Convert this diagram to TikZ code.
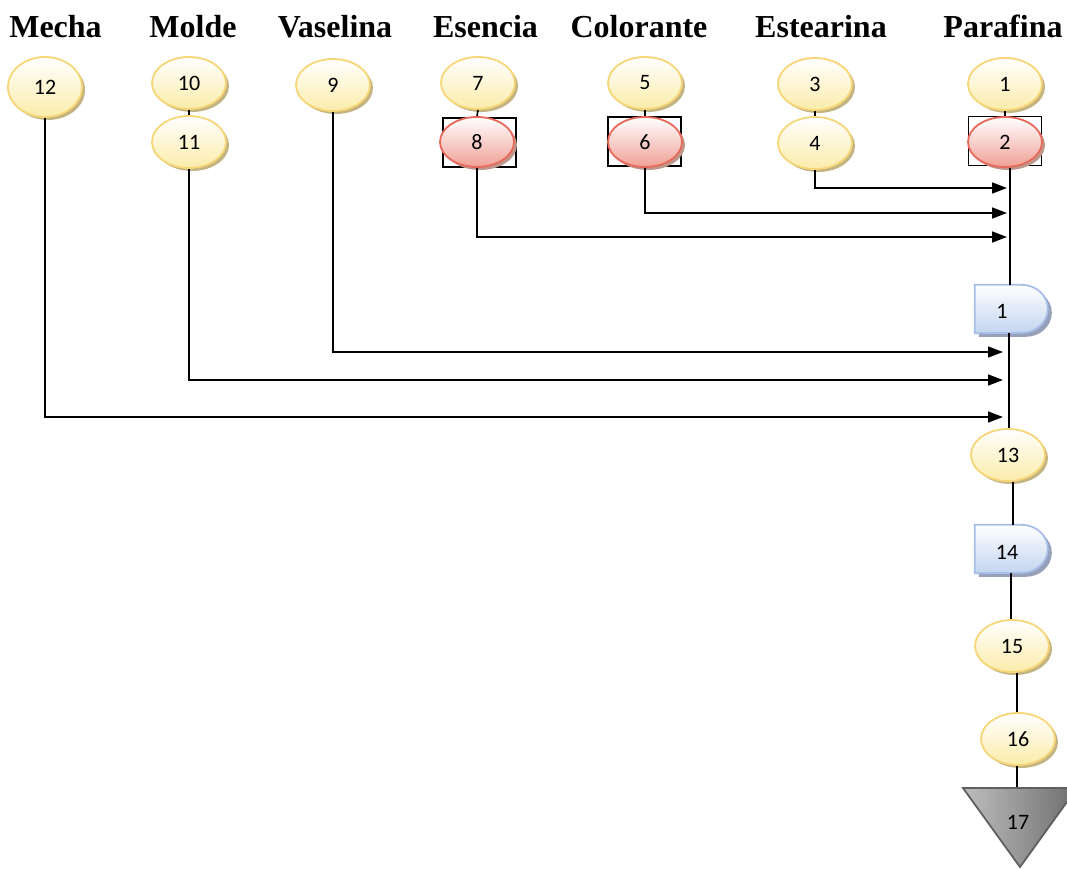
\documentclass[tikz,border=0pt]{standalone}
\usepackage{fontspec}
\setmainfont{Liberation Serif}
\newfontfamily\lblfont{Carlito}
\usetikzlibrary{shapes.geometric,arrows.meta,shadows,calc}
\definecolor{ylwb}{RGB}{246,214,118}
\definecolor{ylwf}{RGB}{251,236,170}
\definecolor{ylws}{RGB}{196,180,130}
\definecolor{redb}{RGB}{232,104,90}
\definecolor{redf}{RGB}{240,160,150}
\definecolor{reds}{RGB}{190,150,140}
\definecolor{blub}{RGB}{168,190,232}
\definecolor{bluf}{RGB}{196,212,240}
\definecolor{blus}{RGB}{150,160,185}
\definecolor{tril}{RGB}{190,190,190}
\definecolor{trid}{RGB}{110,110,110}
\definecolor{trib}{RGB}{95,95,95}
\tikzset{
  hdr/.style={font=\bfseries\fontsize{32}{36}\selectfont, anchor=base, inner sep=0pt},
  lbl/.style={font=\lblfont\fontsize{22}{26}\selectfont},
  opnode/.style={ellipse, draw=ylwb, line width=1.8pt, top color=white, bottom color=ylwf,
    minimum width=74pt, minimum height=52pt, inner sep=0pt, lbl,
    drop shadow={shadow xshift=3pt, shadow yshift=-3pt, fill=ylws, opacity=1}},
  inspnode/.style={ellipse, draw=redb, line width=1.8pt, top color=white, bottom color=redf,
    minimum width=74pt, minimum height=50pt, inner sep=0pt, lbl,
    drop shadow={shadow xshift=3pt, shadow yshift=-3pt, fill=reds, opacity=1}},
  sqbox/.style={rectangle, draw=black, line width=1.3pt, minimum width=73pt, minimum height=49pt, inner sep=0pt},
  dbox/.style={rectangle, minimum width=73pt, minimum height=48pt, inner sep=0pt},
  dshape/.style={draw=blub, line width=1.8pt, top color=white, bottom color=bluf},
  dshadow/.style={fill=blus},
  conn/.style={draw=black, line width=1.6pt},
  arr/.style={conn, -{Triangle[length=15pt,width=11pt]}},
}
\begin{document}
\begin{tikzpicture}[x=1pt,y=-1pt]
\useasboundingbox (0,0) rectangle (1067,868);

% headers
\node[hdr] (hMecha) at (55.5,37) {Mecha};
\node[hdr] (hMolde) at (193,37) {Molde};
\node[hdr] (hVas) at (335,37) {Vaselina};
\node[hdr] (hEse) at (485.5,37) {Esencia};
\node[hdr] (hCol) at (639,37) {Colorante};
\node[hdr] (hEst) at (821,37) {Estearina};
\node[hdr] (hPar) at (1003,37) {Parafina};

% boxes behind inspection ellipses
\node[sqbox] (b8) at (479.5,142.5) {};
\node[sqbox] (b6) at (644.5,141.5) {};
\node[sqbox] (b2) at (1005,141) {};

% top rows
\node[opnode, minimum height=60pt] (n12) at (45,87) {12};
\node[opnode] (n10) at (189,83) {10};
\node[opnode] (n11) at (189,142) {11};
\node[opnode] (n9) at (333,85) {9};
\node[opnode] (n7) at (478,83) {7};
\node[inspnode] (n8) at (477,142) {8};
\node[opnode] (n5) at (645,83) {5};
\node[inspnode] (n6) at (645,142) {6};
\node[opnode] (n3) at (815,84) {3};
\node[opnode] (n4) at (815,143) {4};
\node[opnode] (n1) at (1005,84) {1};
\node[inspnode] (n2) at (1005,142) {2};

\draw[conn] (n10.south) -- (n11.north);
\draw[conn] (n7.south) -- (n8.north);
\draw[conn] (n5.south) -- (n6.north);
\draw[conn] (n3.south) -- (n4.north);
\draw[conn] (n1.south) -- (n2.north);

% delay 1
\node[dbox] (d1) at (1011.5,309) {};
\fill[dshadow] ($(d1.north west)+(4,4)$) -- ++(47,0) arc[start angle=90,end angle=-90,x radius=26pt,y radius=24pt] -- ++(-47,0) -- cycle;
\path[dshape] (d1.north west) -- ++(47,0) arc[start angle=90,end angle=-90,x radius=26pt,y radius=24pt] -- (d1.south west) -- cycle;
\node[lbl] (t1) at (1002,311) {1};

% main trunk upper
\coordinate (c4) at (1007,188);
\coordinate (c6) at (1007,213);
\coordinate (c8) at (1007,237);
\draw[conn] (n2.south -| 1010,0) -- (d1.north -| 1010,0);
\draw[arr] (n4.south) |- (c4);
\draw[arr] (n6.south) |- (c6);
\draw[arr] (n8.south) |- (c8);

% 13
\node[opnode] (n13) at (1008,455) {13};
\draw[conn] (d1.south -| 1009,0) -- (n13.north -| 1009,0);
\coordinate (c9) at (1003,352);
\coordinate (c11) at (1003,380);
\coordinate (c12) at (1003,417);
\draw[arr] (n9.south) |- (c9);
\draw[arr] (n11.south) |- (c11);
\draw[arr] (n12.south) |- (c12);

% delay 14
\node[dbox] (d14) at (1011.5,549) {};
\fill[dshadow] ($(d14.north west)+(4,4)$) -- ++(47,0) arc[start angle=90,end angle=-90,x radius=26pt,y radius=24pt] -- ++(-47,0) -- cycle;
\path[dshape] (d14.north west) -- ++(47,0) arc[start angle=90,end angle=-90,x radius=26pt,y radius=24pt] -- (d14.south west) -- cycle;
\node[lbl] (t14) at (1007,552) {14};
\draw[conn] (n13.south -| 1013,0) -- (d14.north -| 1013,0);

% 15, 16
\node[opnode] (n15) at (1012,646) {15};
\node[opnode] (n16) at (1018,739) {16};
\draw[conn] (d14.south -| 1011,0) -- (n15.north -| 1011,0);
\draw[conn] (n15.south -| 1017,0) -- (n16.north -| 1017,0);

% 17 storage triangle
\coordinate (c17) at (1017,788);
\draw[conn] (n16.south -| c17) -- (c17);
\path[draw=trib, line width=1.8pt, left color=tril, right color=trid] (963,788) -- (1077,788) -- (1020,867) -- cycle;
\node[lbl] (n17) at (1018,822) {17};
\end{tikzpicture}
\end{document}
